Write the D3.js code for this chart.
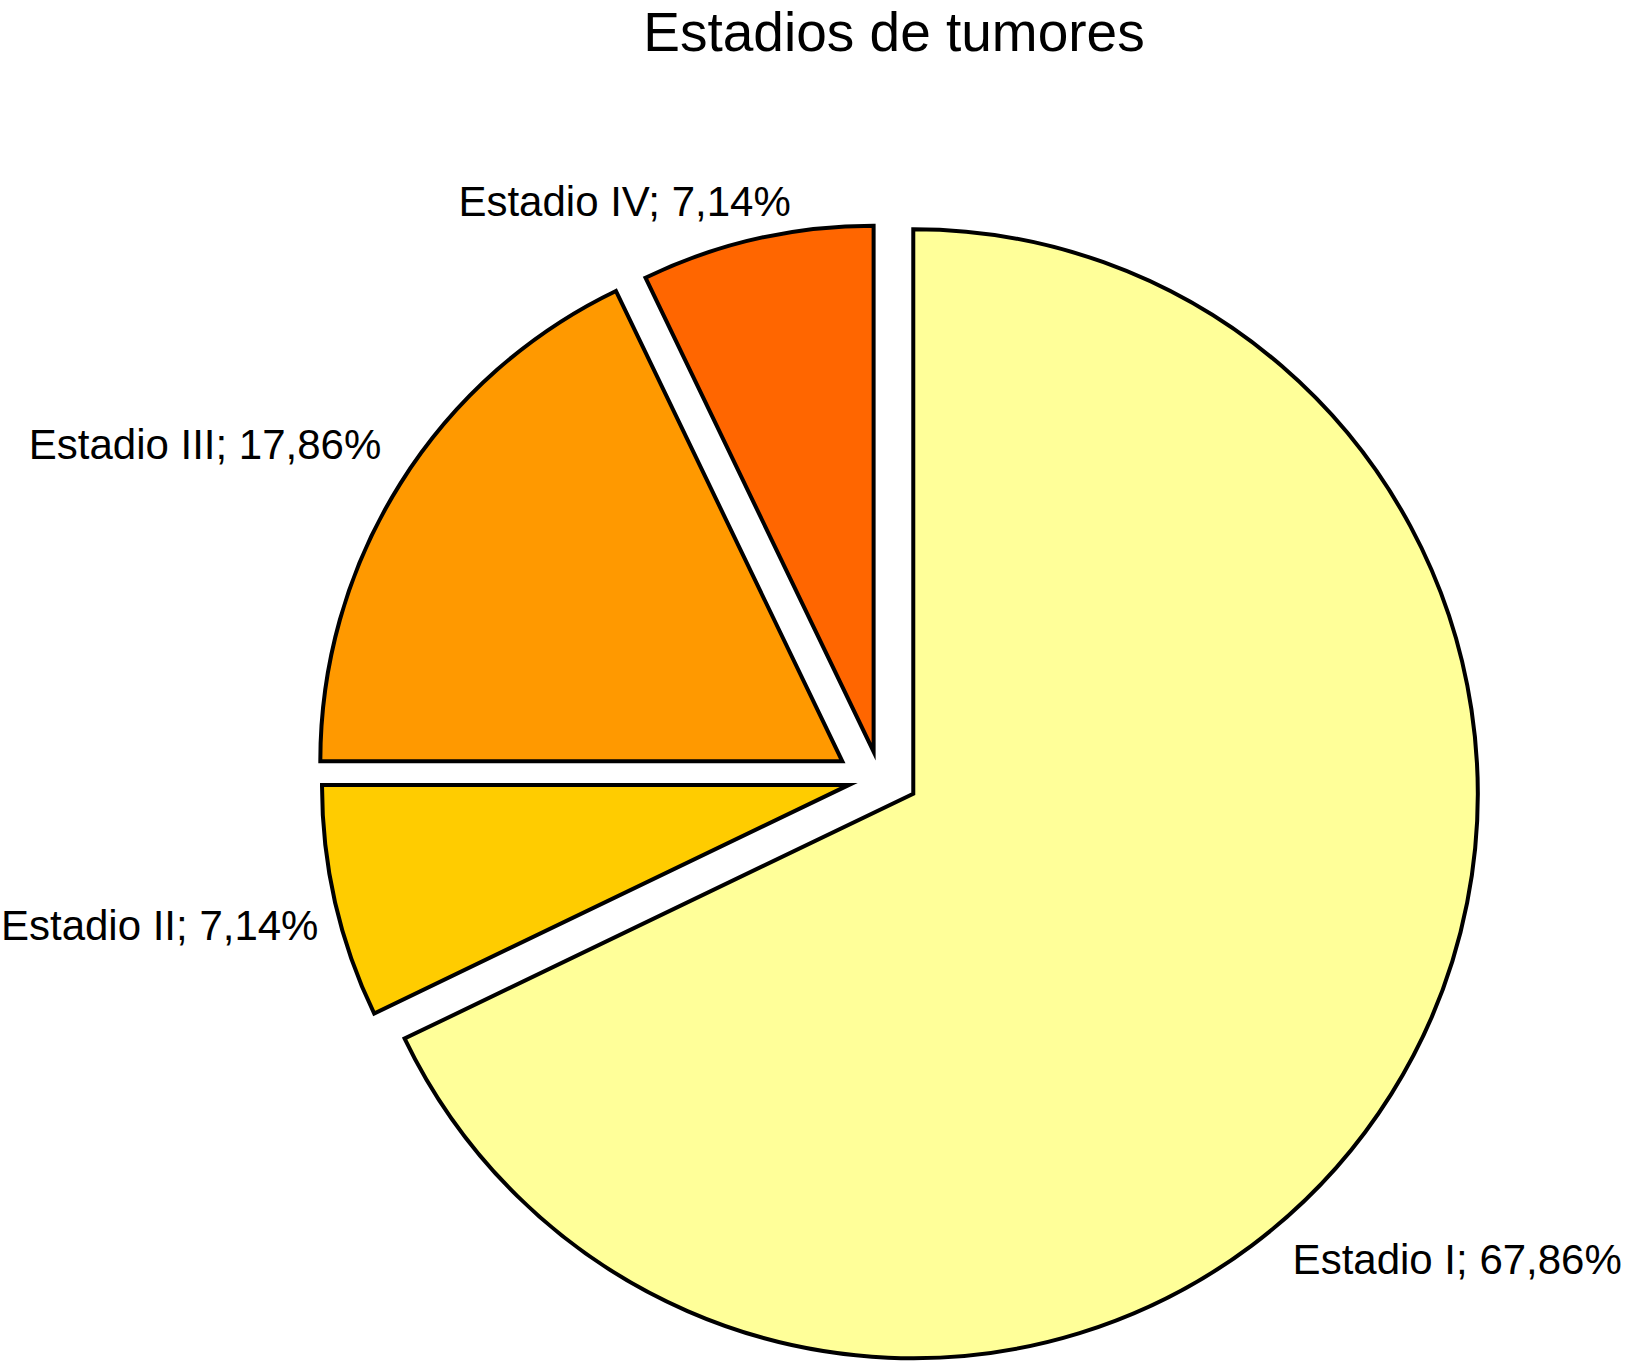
<!DOCTYPE html>
<html>
<head>
<meta charset="utf-8">
<script src="https://cdn.jsdelivr.net/npm/d3@7"></script>
<style>
  html, body { margin: 0; padding: 0; background: #fff; }
  svg { display: block; }
  text { font-family: "Liberation Sans", Arial, Helvetica, sans-serif; fill: #000; }
</style>
</head>
<body>
<svg id="chart" width="1625" height="1361"></svg>
<script>
// ---- data ----
const categories = ["Estadio I", "Estadio II", "Estadio III", "Estadio IV"];
const values = [67.86, 7.14, 17.86, 7.14];
const valueLabels = ["67,86%", "7,14%", "17,86%", "7,14%"];
const title = "Estadios de tumores";

// ---- style / layout ----
const colors = ["#FFFF99", "#FFCC00", "#FF9900", "#FF6600"];
const W = 1625, H = 1361;
const cx = 879.6, cy = 777.9;
const outerRadii = [564.5, 527, 522, 526];
const explode = [37.2, 31.4, 40.8, 26.9];        // explode distance
const explodeAngleDev = [-7, 0, -8.2, 0];        // deviation (deg) of explode direction from mid-angle
// label placement (polar, relative to pie centre): radius and angular shift (deg) from slice mid-angle
const labelRadius = [634, 580, 600, 584];
const labelShift = [17.2, -1.8, 1.7, 4.1];
const labelFont = 42;

const svg = d3.select("#chart");

svg.append("text")
  .attr("x", 894).attr("y", 51)
  .attr("text-anchor", "middle")
  .style("font-size", "55px")
  .text(title);

const pie = d3.pie().sort(null).value(d => d.value).startAngle(0).endAngle(2 * Math.PI);
const data = categories.map((c, i) => ({ cat: c, value: values[i], label: valueLabels[i], i }));
const arcs = pie(data);

const g = svg.append("g").attr("transform", `translate(${cx},${cy})`);

arcs.forEach((a, i) => {
  const mid = (a.startAngle + a.endAngle) / 2 + explodeAngleDev[i] * Math.PI / 180;
  const dx = explode[i] * Math.sin(mid), dy = -explode[i] * Math.cos(mid);
  const arc = d3.arc().innerRadius(0).outerRadius(outerRadii[i]);
  g.append("path")
    .attr("d", arc(a))
    .attr("transform", `translate(${dx},${dy})`)
    .attr("fill", colors[i])
    .attr("stroke", "#000")
    .attr("stroke-width", 4)
    .attr("stroke-linejoin", "miter")
    .attr("stroke-miterlimit", 10);
});

arcs.forEach((a, i) => {
  const mid = (a.startAngle + a.endAngle) / 2 + labelShift[i] * Math.PI / 180;
  const x = labelRadius[i] * Math.sin(mid), y = -labelRadius[i] * Math.cos(mid);
  const anchor = Math.sin(mid) >= 0 ? "start" : "end";
  g.append("text")
    .attr("x", x).attr("y", y)
    .attr("dy", "0.36em")
    .attr("text-anchor", anchor)
    .style("font-size", labelFont + "px")
    .text(`${a.data.cat}; ${a.data.label}`);
});
</script>
</body>
</html>
